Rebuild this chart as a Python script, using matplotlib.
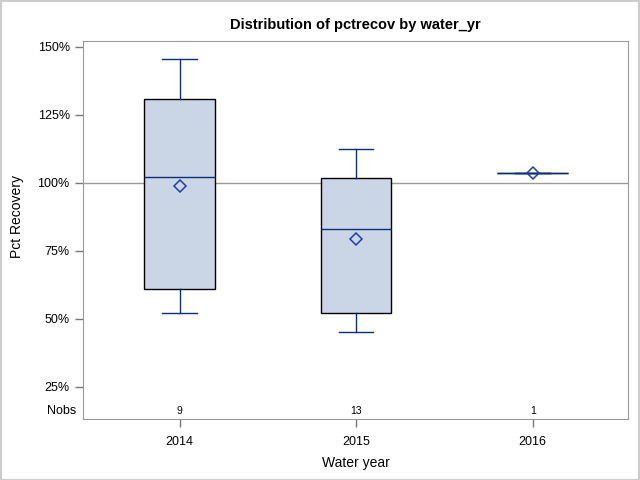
import matplotlib
matplotlib.use("Agg")
import matplotlib.pyplot as plt
from matplotlib.ticker import FuncFormatter

plt.rcParams['font.family'] = ['Liberation Sans', 'DejaVu Sans']

# data (percent)
years = ["2014", "2015", "2016"]
nobs = [9, 13, 1]
whis_lo = [52.1, 45.1, 103.6]
q1 = [60.9, 52.1, 103.6]
med = [102.2, 83.0, 103.6]
q3 = [130.8, 101.7, 103.6]
whis_hi = [145.5, 112.4, 103.6]
means = [98.9, 79.3, 103.6]

stats = []
for i in range(len(years)):
    stats.append({"label": years[i], "whislo": whis_lo[i], "q1": q1[i], "med": med[i],
                  "q3": q3[i], "whishi": whis_hi[i], "mean": means[i], "fliers": []})

navy = "#0A2F7A"
fig = plt.figure(figsize=(6.4, 4.8), dpi=100)
ax = fig.add_axes([83/640, 1-419/480, 545/640, 378/480])

ax.axhline(100, color="#9a9a9a", lw=1, zorder=1)
ax.bxp(stats, positions=range(len(years)), widths=0.40, patch_artist=True, showmeans=True,
       boxprops=dict(facecolor="#CAD5E5", edgecolor="black", lw=1),
       medianprops=dict(color=navy, lw=1, zorder=4),
       whiskerprops=dict(color=navy, lw=1),
       capprops=dict(color=navy, lw=1), capwidths=0.195,
       meanprops=dict(marker="D", markerfacecolor="none", markeredgecolor="#1F3FA8",
                      markersize=6.5, markeredgewidth=1.1, zorder=5))

ax.set_xlim(-0.547, 2.54)
ax.set_ylim(13.2, 152.2)
ax.set_yticks([25, 50, 75, 100, 125, 150])
ax.yaxis.set_major_formatter(FuncFormatter(lambda v, p: f"{v:.0f}%"))
ax.set_xticks(range(len(years)))
ax.set_xticklabels(years)

for i, n in enumerate(nobs):
    ax.text(i, 16.2, str(n), ha="center", va="center", fontsize=7.5)
ax.text(-0.013, 16.2, "Nobs", ha="right", va="center", fontsize=9, transform=ax.get_yaxis_transform())

for s in ax.spines.values():
    s.set_color("#9a9a9a")
ax.tick_params(axis="both", colors="#777777", labelcolor="black", labelsize=9, length=6, width=1)
ax.tick_params(axis="x", pad=6)

ax.set_xlabel("Water year", fontsize=10, labelpad=6)
ax.set_ylabel("Pct Recovery", fontsize=10)
ax.yaxis.set_label_coords(-0.108, 0.537)
ax.set_title("Distribution of pctrecov by water_yr", fontsize=10.5, fontweight="bold", pad=9)

fig.patches.append(plt.Rectangle((0.001, 0.001), 0.998, 0.997, transform=fig.transFigure,
                                 fill=False, edgecolor="#cccccc", lw=1.5))

fig.savefig("out.png", dpi=100)
